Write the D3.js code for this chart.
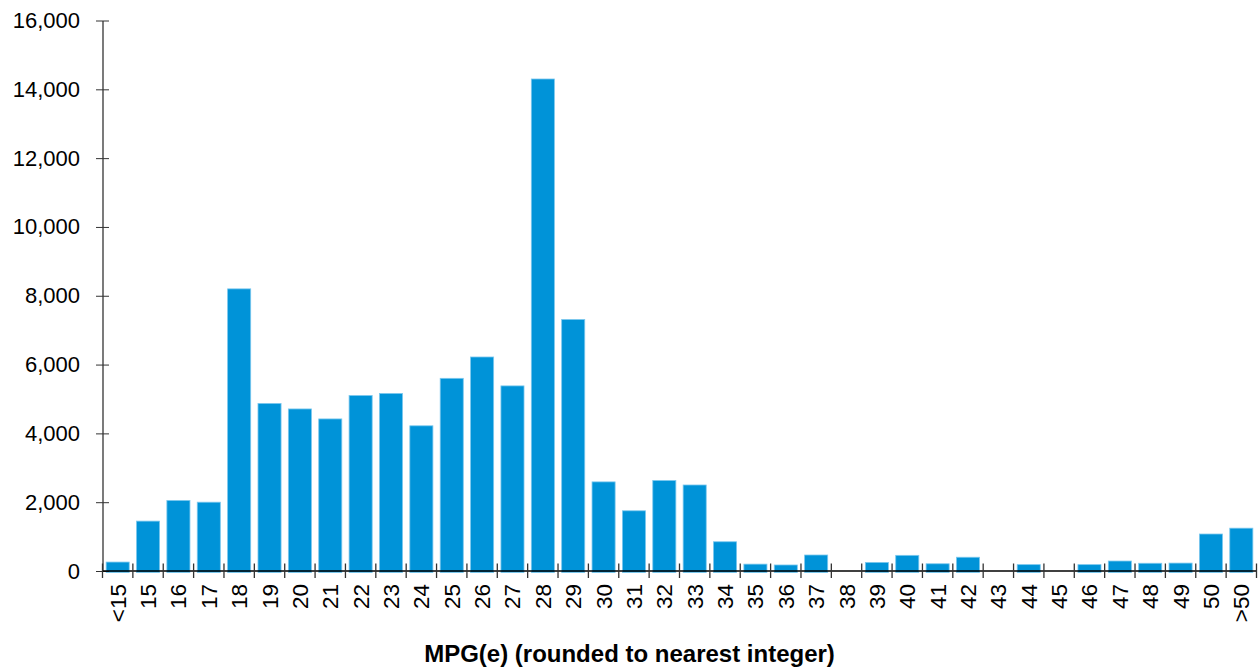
<!DOCTYPE html>
<meta charset="utf-8">
<head>
<script src="https://d3js.org/d3.v7.min.js"></script>
<style>
  body { margin: 0; background: #fff; }
  text { font-family: "Liberation Sans", Arial, sans-serif; fill: #000; }
</style>
</head>
<body>
<div id="chart"></div>
<script>

// categories on the x axis
var categories = ["<15","15","16","17","18","19","20","21","22","23","24","25","26","27","28","29",
  "30","31","32","33","34","35","36","37","38","39","40","41","42","43","44","45","46","47","48","49","50",">50"];

// number of vehicles per MPG(e) bucket
var counts = [260, 1450, 2050, 2000, 8200, 4870, 4710, 4420, 5100, 5160, 4220, 5600, 6220, 5380, 14300, 7310,
  2590, 1750, 2630, 2500, 850, 200, 175, 465, 0, 250, 455, 210, 400, 0, 185, 0, 185, 290, 225, 230, 1075, 1245];

var yTicks = [0, 2000, 4000, 6000, 8000, 10000, 12000, 14000, 16000];

var data = categories.map(function(c, i) { return {cat: c, value: counts[i]}; });

var margin = {top: 20.5, right: 3.5, bottom: 101, left: 102.5},
    width = 1260 - margin.left - margin.right,
    height = 672 - margin.top - margin.bottom;

var svg = d3.select("#chart")
  .append("svg")
    .attr("width", 1260)
    .attr("height", 672)
  .append("g")
    .attr("transform", "translate(" + margin.left + "," + margin.top + ")");

var x = d3.scaleBand()
  .domain(categories)
  .range([0, width])
  .paddingInner(0.24)
  .paddingOuter(0.12);

var y = d3.scaleLinear()
  .domain([0, 16000])
  .range([height, 0]);

// bars
svg.selectAll(".bar")
  .data(data)
  .enter()
  .append("rect")
    .attr("class", "bar")
    .attr("x", function(d) { return x(d.cat); })
    .attr("width", x.bandwidth())
    .attr("y", function(d) { return y(d.value); })
    .attr("height", function(d) { return d.value > 0 ? height - y(d.value) + 1.5 : 0; })
    .attr("fill", "#0093d8")
    .attr("stroke", "#7cc8ee")
    .attr("stroke-width", 0.8);

// Y axis
var yAxis = svg.append("g")
  .call(d3.axisLeft(y).tickValues(yTicks).tickSize(6.5).tickPadding(16)
    .tickFormat(d3.format(",")).tickSizeOuter(0));
yAxis.selectAll(".tick line").attr("x2", 6.5).attr("x1", -6.5).attr("stroke", "#333");
yAxis.select(".domain").attr("stroke", "#333").attr("stroke-width", 1.3);
yAxis.selectAll("text").style("font-size", "22px");

// X axis: ticks sit between the categories
var bounds = d3.range(categories.length + 1);
var xAxis = svg.append("g").attr("transform", "translate(0," + height + ")");
xAxis.append("line")
  .attr("x1", 0).attr("x2", width)
  .attr("stroke", "#000").attr("stroke-width", 1.3);
xAxis.selectAll(".xtick")
  .data(bounds)
  .enter()
  .append("line")
    .attr("class", "xtick")
    .attr("x1", function(i) { return i * width / categories.length; })
    .attr("x2", function(i) { return i * width / categories.length; })
    .attr("y1", -7.5)
    .attr("y2", 7)
    .attr("stroke", "#333")
    .attr("stroke-width", 1.3);
xAxis.selectAll(".xlabel")
  .data(categories)
  .enter()
  .append("text")
    .attr("class", "xlabel")
    .attr("transform", function(d) {
      return "translate(" + (x(d) + x.bandwidth() / 2 + 8) + ",13) rotate(-90)";
    })
    .attr("text-anchor", "end")
    .style("font-size", "22.5px")
    .text(function(d) { return d; });

// X axis title
svg.append("text")
  .attr("x", width / 2 - 50)
  .attr("y", height + 91)
  .attr("text-anchor", "middle")
  .style("font-size", "24px")
  .style("font-weight", "bold")
  .text("MPG(e) (rounded to nearest integer)");

</script>
</body>
</html>
